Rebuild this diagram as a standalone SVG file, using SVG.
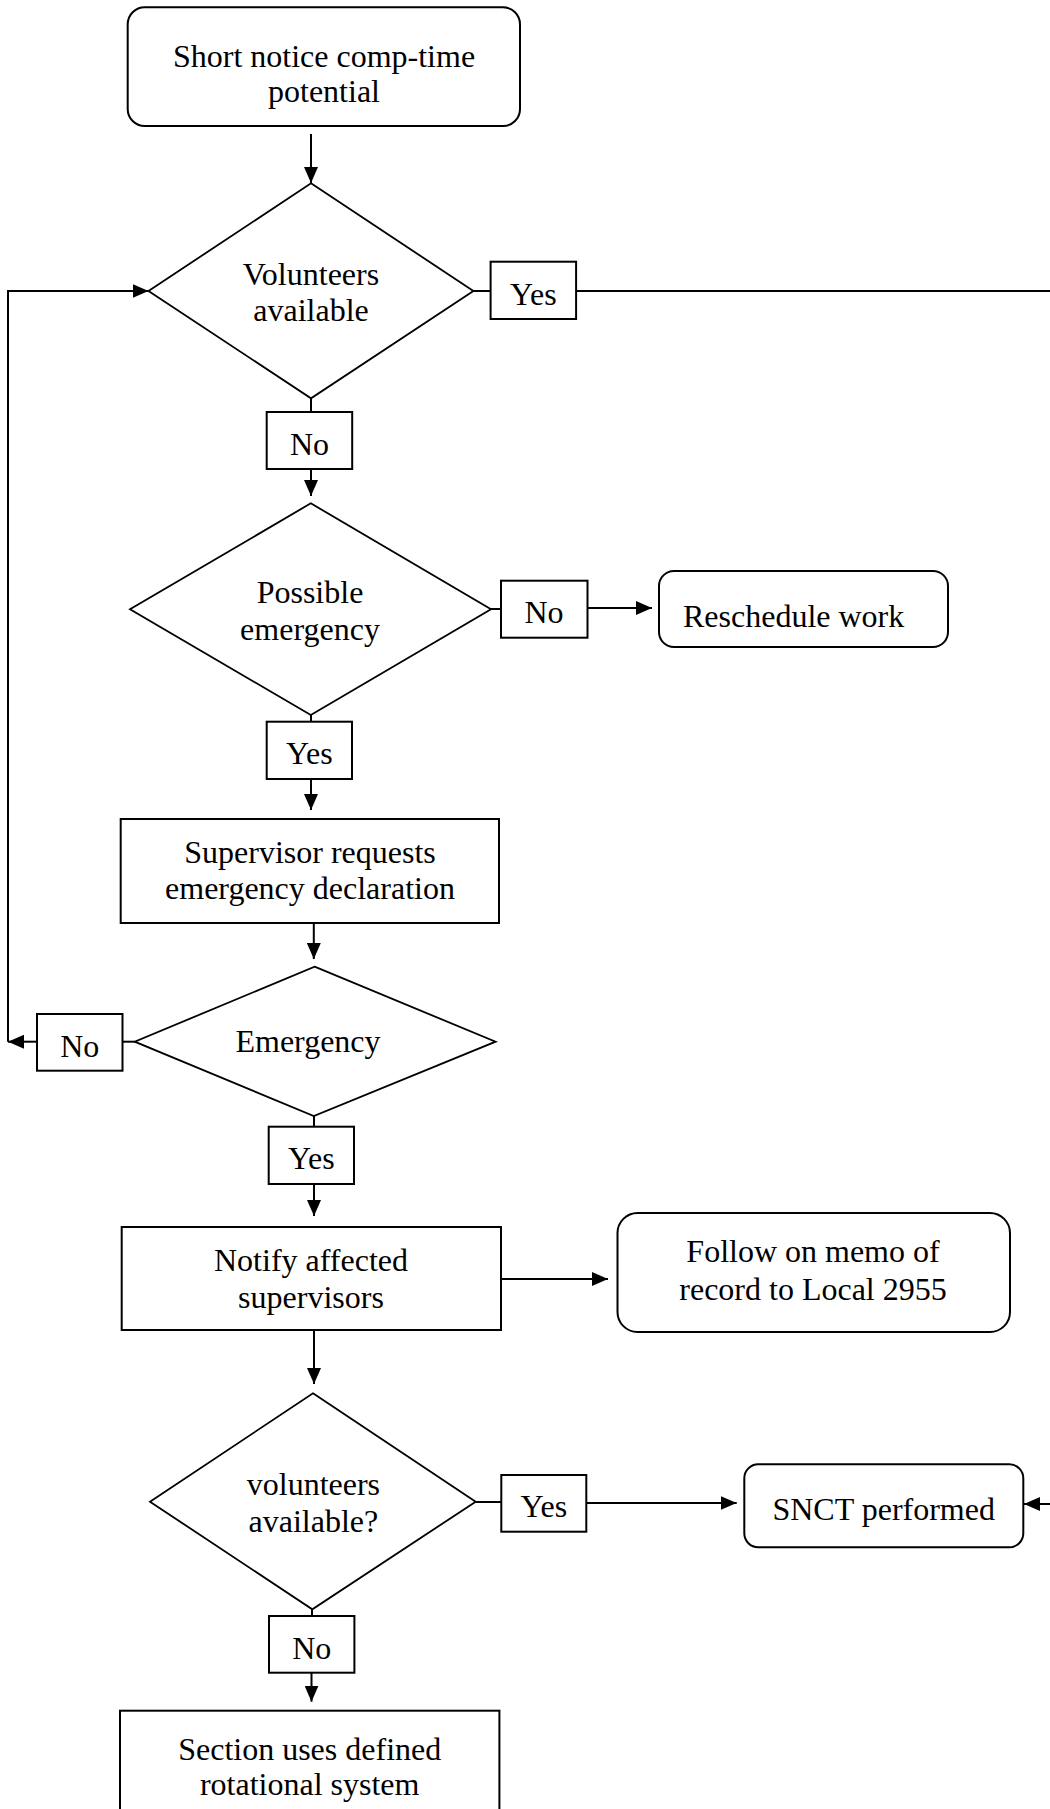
<svg xmlns="http://www.w3.org/2000/svg" width="1050" height="1809" viewBox="0 0 1050 1809">
<style>
  .box{fill:#fff;stroke:#000;stroke-width:2}
  .dia{fill:#fff;stroke:#000;stroke-width:1.8}
  .lbl{fill:#fff;stroke:#000;stroke-width:2}
  .t{font-family:"Liberation Serif","Times New Roman",serif;font-size:32px;fill:#000;text-anchor:middle}
  .tl{font-family:"Liberation Serif","Times New Roman",serif;font-size:32px;fill:#000}
  .c{fill:none;stroke:#000;stroke-width:2}
</style>
<defs>
  <marker id="arr" markerUnits="userSpaceOnUse" markerWidth="16" markerHeight="14" refX="16" refY="7" orient="auto">
    <path d="M0,0 L16,7 L0,14 z" fill="#000"/>
  </marker>
</defs>
<rect width="1050" height="1809" fill="#fff"/>

<g id="connectors">
  <path class="c" d="M311,134 V183" marker-end="url(#arr)"/>
  <path class="c" d="M473.4,291 H490.6"/>
  <path class="c" d="M576,291 H1062 V1504 H1024" marker-end="url(#arr)"/>
  <path class="c" d="M311,398.3 V412"/>
  <path class="c" d="M311,469 V496" marker-end="url(#arr)"/>
  <path class="c" d="M491,609 H501"/>
  <path class="c" d="M587,608 H652" marker-end="url(#arr)"/>
  <path class="c" d="M311,715 V721.7"/>
  <path class="c" d="M311,779 V810" marker-end="url(#arr)"/>
  <path class="c" d="M313.8,923 V959" marker-end="url(#arr)"/>
  <path class="c" d="M134.7,1041.7 H122.5"/>
  <path class="c" d="M37,1041.7 H8" marker-end="url(#arr)"/>
  <path class="c" d="M8,1041.7 V291 H148.5" marker-end="url(#arr)"/>
  <path class="c" d="M314,1116 V1126.7"/>
  <path class="c" d="M314,1184 V1216" marker-end="url(#arr)"/>
  <path class="c" d="M497,1279 H608" marker-end="url(#arr)"/>
  <path class="c" d="M314,1330 V1384" marker-end="url(#arr)"/>
  <path class="c" d="M475.7,1502 H501.3"/>
  <path class="c" d="M586.3,1503 H736.7" marker-end="url(#arr)"/>
  <path class="c" d="M312,1609 V1616"/>
  <path class="c" d="M311.5,1672.7 V1701.7" marker-end="url(#arr)"/>
</g>

<g id="start">
  <rect class="box" x="127.7" y="7.3" width="392.3" height="118.7" rx="17"/>
  <text class="t" x="324" y="66.5">Short notice comp-time</text>
  <text class="t" x="324" y="102">potential</text>
</g>

<g id="volunteers1">
  <polygon class="dia" points="311,183.3 473.4,291 311,398.3 148.5,291"/>
  <text class="t" x="311" y="285">Volunteers</text>
  <text class="t" x="311" y="321">available</text>
</g>

<g id="yes1">
  <rect class="lbl" x="490.6" y="261.7" width="85.5" height="57.3"/>
  <text class="t" x="533.3" y="304.5">Yes</text>
</g>

<g id="no1">
  <rect class="lbl" x="266.7" y="412" width="85.5" height="57"/>
  <text class="t" x="309.5" y="454.5">No</text>
</g>

<g id="possible">
  <polygon class="dia" points="310.8,503.3 491,609.3 310.8,715 130,609.3"/>
  <text class="t" x="310" y="603.3">Possible</text>
  <text class="t" x="310" y="640">emergency</text>
</g>

<g id="no2">
  <rect class="lbl" x="501" y="580.7" width="86.5" height="57"/>
  <text class="t" x="544" y="623">No</text>
</g>

<g id="reschedule">
  <rect class="box" x="659" y="571" width="289" height="76" rx="15"/>
  <text class="tl" x="683" y="627">Reschedule work</text>
</g>

<g id="yes2">
  <rect class="lbl" x="266.7" y="721.7" width="85.3" height="57.3"/>
  <text class="t" x="309.3" y="763.5">Yes</text>
</g>

<g id="supervisor">
  <rect class="box" x="120.7" y="819" width="378.3" height="104"/>
  <text class="t" x="310" y="863">Supervisor requests</text>
  <text class="t" x="310" y="899">emergency declaration</text>
</g>

<g id="emergency">
  <polygon class="dia" points="314.6,966.7 495.6,1041.7 313.8,1116 134.7,1041.7"/>
  <text class="t" x="308" y="1051.7">Emergency</text>
</g>

<g id="no3">
  <rect class="lbl" x="37" y="1014" width="85.5" height="56.7"/>
  <text class="t" x="79.7" y="1056.7">No</text>
</g>

<g id="yes3">
  <rect class="lbl" x="268.7" y="1126.7" width="85.3" height="57.3"/>
  <text class="t" x="311.3" y="1169">Yes</text>
</g>

<g id="notify">
  <rect class="box" x="121.7" y="1227" width="379.3" height="103"/>
  <text class="t" x="311" y="1271">Notify affected</text>
  <text class="t" x="311" y="1308">supervisors</text>
</g>

<g id="follow">
  <rect class="box" x="617.5" y="1213" width="392.5" height="119" rx="20"/>
  <text class="t" x="813" y="1262">Follow on memo of</text>
  <text class="t" x="813" y="1300">record to Local 2955</text>
</g>

<g id="volunteers2">
  <polygon class="dia" points="313,1393.3 475.7,1501.7 312.3,1609.3 150,1501.7"/>
  <text class="t" x="313.4" y="1495">volunteers</text>
  <text class="t" x="313.4" y="1531.7">available?</text>
</g>

<g id="yes4">
  <rect class="lbl" x="501.3" y="1475" width="85" height="56.7"/>
  <text class="t" x="543.8" y="1517">Yes</text>
</g>

<g id="snct">
  <rect class="box" x="744.3" y="1464.3" width="279" height="83" rx="14"/>
  <text class="t" x="883.7" y="1520">SNCT performed</text>
</g>

<g id="no4">
  <rect class="lbl" x="269" y="1616" width="85.4" height="56.7"/>
  <text class="t" x="311.7" y="1658.5">No</text>
</g>

<g id="rotational">
  <rect class="box" x="120" y="1710.7" width="379.4" height="115"/>
  <text class="t" x="309.7" y="1760">Section uses defined</text>
  <text class="t" x="309.7" y="1795">rotational system</text>
</g>
</svg>
